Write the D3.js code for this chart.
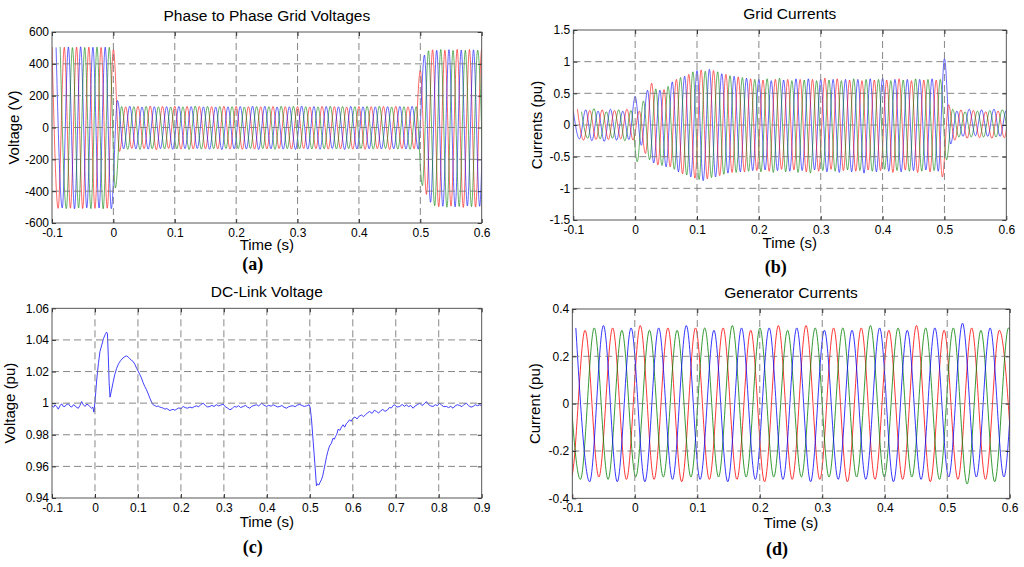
<!DOCTYPE html>
<html>
<head>
<meta charset="utf-8">
<script src="https://cdn.jsdelivr.net/npm/d3@7"></script>
<style>
  body { margin: 0; background: #fff; }
  svg { display: block; font-family: "Liberation Sans", Arial, Helvetica, sans-serif; }
  .tick text { font-size: 12px; fill: #000; }
  .tick line { stroke: #333; }
  .title { font-size: 15.5px; fill: #000; }
  .axis-label { font-size: 15px; fill: #000; }
  .panel-tag { font-family: "Liberation Serif", "Times New Roman", serif; font-weight: bold; font-size: 18px; }
</style>
</head>
<body>
<svg id="chart" width="1024" height="567"></svg>
<script>

// ---------- (a) phase to phase grid voltages, V ----------
// peaks in time order, one every period/3 (phases take turns)
const voltStart = -0.1,
    voltPeriod = 0.02;
const voltTops = [
    505,503,507,504,506,502,505,507,503,505,504,506,503,505,504,
    490,170,
    132,130,134,131,133,129,132,135,131,130,
    133,131,129,134,132,130,133,131,135,132,
    130,133,131,129,132,134,130,131,133,132,
    129,131,134,132,130,133,131,132,129,134,
    131,130,133,132,135,131,129,132,130,133,
    132,134,131,130,132,129,133,131,132,130,
    133,131,130,134,132,131,129,133,132,131,
    130,133,131,
    360,455,
    482,488,485,490,486,489,484,491,487,485,490,488,486,489,487
];
const voltBottoms = [
    -508,-505,-510,-507,-511,-506,-509,-505,-510,-508,-506,-511,-507,-510,
    -380,-150,
    -134,-137,-132,-135,-138,-133,-136,-134,-140,-133,
    -135,-132,-137,-134,-136,-133,-138,-135,-132,-136,
    -134,-137,-133,-135,-139,-132,-136,-134,-133,-137,
    -135,-132,-136,-138,-133,-135,-134,-137,-132,-136,
    -133,-135,-138,-134,-132,-136,-135,-133,-137,-134,
    -136,-132,-135,-134,-138,-133,-136,-135,-132,-137,
    -134,-136,-133,-135,-132,-138,-134,-136,-133,-135,
    -137,-134,-136,
    -365,-420,-470,
    -492,-498,-495,-501,-494,-499,-496,-502,-493,-497,-500,-495,-498,-496,-499
];
const voltXTicks = [-0.1, 0, 0.1, 0.2, 0.3, 0.4, 0.5, 0.6];
const voltYTicks = [-600, -400, -200, 0, 200, 400, 600];

// ---------- (b) grid currents, pu ----------
const currStart = -0.1,
    currPeriod = 0.02;
const currTops = [
    0.22,0.25,0.21,0.24,0.23,0.26,0.22,0.24,0.21,0.25,0.23,0.24,0.22,0.25,0.23,
    0.45,0.22,0.38,0.55,0.66,0.57,0.55,0.56,0.61,0.68,
    0.72,0.75,0.77,0.80,0.84,0.86,0.87,0.85,0.88,0.86,
    0.84,0.81,0.80,0.78,0.77,0.76,0.75,0.74,0.73,0.72,
    0.72,0.71,0.73,0.70,0.72,0.74,0.71,0.72,0.70,0.73,
    0.72,0.71,0.73,0.72,0.70,0.72,0.74,0.71,0.72,0.73,
    0.70,0.72,0.71,0.73,0.72,0.70,0.72,0.73,0.71,0.72,
    0.74,0.71,0.70,0.72,0.73,0.71,0.72,0.70,0.73,0.72,
    0.71,0.72,0.73,0.71,
    0.72,1.05,0.32,0.25,
    0.22,0.24,0.21,0.25,0.23,0.22,0.24,0.21,0.23,0.25,0.22,0.24,0.23,0.22
];
const currBottoms = [
    -0.22,-0.24,-0.21,-0.25,-0.23,-0.22,-0.26,-0.23,-0.21,-0.24,-0.22,-0.25,-0.23,-0.24,
    -0.58,-0.32,-0.45,-0.55,-0.60,-0.63,-0.64,-0.66,-0.66,-0.70,
    -0.74,-0.77,-0.79,-0.82,-0.84,-0.86,-0.88,-0.85,-0.83,-0.82,
    -0.80,-0.78,-0.76,-0.75,-0.75,-0.74,-0.74,-0.73,-0.72,
    -0.72,-0.74,-0.71,-0.73,-0.75,-0.72,-0.70,-0.74,-0.73,-0.71,
    -0.75,-0.72,-0.74,-0.76,-0.71,-0.73,-0.72,-0.74,-0.70,-0.73,
    -0.75,-0.72,-0.71,-0.74,-0.73,-0.72,-0.76,-0.71,-0.73,-0.74,
    -0.72,-0.70,-0.73,-0.75,-0.72,-0.74,-0.71,-0.73,-0.72,-0.75,
    -0.73,-0.71,-0.74,-0.72,-0.73,
    -0.82,-0.55,-0.30,-0.24,
    -0.19,-0.18,-0.21,-0.19,-0.17,-0.20,-0.19,-0.18,-0.21,-0.19,-0.18,-0.20,-0.19,-0.18,-0.20
];
const currXTicks = [-0.1, 0, 0.1, 0.2, 0.3, 0.4, 0.5, 0.6];
const currYTicks = [-1.5, -1, -0.5, 0, 0.5, 1, 1.5];

// ---------- (c) DC-link voltage, pu : [time, value] ----------
const dcLinkSamples = [
    [-0.1,0.9983],[-0.096,0.9975],[-0.093,0.9989],[-0.089,0.9978],[-0.0853,0.9962],[-0.081,0.9985],
    [-0.0775,0.9996],[-0.074,0.9980],[-0.0698,0.9979],[-0.066,0.9992],[-0.062,0.9996],[-0.058,0.9981],
    [-0.0542,0.9975],[-0.05,0.9990],[-0.0465,0.9983],[-0.042,0.9972],[-0.0388,0.9968],[-0.035,0.9985],
    [-0.031,1.0010],[-0.027,0.9990],[-0.0233,0.9979],[-0.019,0.9994],[-0.0155,0.9989],[-0.012,0.9978],
    [-0.0078,0.9968],[-0.005,0.9975],[-0.0023,0.9943],
    [0.001,1.004],[0.004,1.0147],[0.008,1.025],[0.0116,1.0327],[0.016,1.037],[0.02,1.041],
    [0.024,1.0435],[0.027,1.0449],[0.029,1.044],[0.031,1.03],[0.033,1.013],[0.035,1.0038],
    [0.038,1.0075],[0.042,1.013],[0.046,1.018],[0.0505,1.0221],[0.055,1.025],[0.06,1.027],
    [0.065,1.0285],[0.07,1.0295],[0.0737,1.0299],[0.077,1.0292],[0.08,1.0285],[0.085,1.027],
    [0.089,1.0263],[0.093,1.0245],[0.097,1.022],[0.1,1.0205],[0.1047,1.0179],[0.108,1.016],
    [0.112,1.013],[0.116,1.0105],[0.12,1.0084],[0.124,1.0058],[0.128,1.003],[0.132,1.0005],
    [0.1356,0.9989],[0.139,0.9985],[0.143,0.9979],[0.147,0.9982],[0.151,0.9975],[0.155,0.9972],
    [0.159,0.9968],[0.163,0.9962],[0.167,0.9966],[0.1744,0.9953],[0.178,0.9958],[0.182,0.9961],
    [0.186,0.9955],[0.19,0.9962],[0.195,0.9970],[0.2,0.9965],[0.2053,0.9979],[0.21,0.9972],
    [0.215,0.9968],[0.221,0.9975],[0.226,0.9970],[0.231,0.9978],[0.2365,0.9983],[0.241,0.9976],
    [0.246,0.9990],[0.252,1.0],[0.257,0.9985],[0.262,0.9976],[0.2674,0.9979],[0.272,0.9986],
    [0.277,0.9979],[0.283,0.9990],[0.288,0.9982],[0.293,0.9988],[0.2984,0.9994],[0.303,0.9978],
    [0.308,0.9970],[0.314,0.9958],[0.319,0.9965],[0.324,0.9979],[0.3295,0.9975],[0.334,0.9984],
    [0.339,0.9972],[0.345,0.9979],[0.35,0.9986],[0.355,0.9975],[0.3605,0.9968],[0.365,0.9980],
    [0.37,0.9985],[0.376,0.9990],[0.381,0.9982],[0.3877,1.0],[0.393,0.9988],[0.3993,0.9979],
    [0.404,0.9986],[0.41,0.9981],[0.4147,0.9990],[0.42,0.9983],[0.425,0.9976],[0.4302,0.9979],
    [0.435,0.9985],[0.44,0.9974],[0.4458,0.9968],[0.45,0.9976],[0.456,0.9982],[0.4612,0.9983],
    [0.466,0.9978],[0.471,0.9988],[0.4767,0.9992],[0.482,0.9985],[0.487,0.9979],[0.4923,0.9983],
    [0.4984,0.9990],
    [0.501,0.997],[0.504,0.9894],[0.508,0.975],[0.5116,0.962],[0.5155,0.9477],[0.518,0.949],
    [0.521,0.9482],[0.524,0.950],[0.527,0.9515],[0.53,0.954],[0.533,0.958],[0.536,0.962],
    [0.539,0.9662],[0.542,0.9695],[0.546,0.973],[0.55,0.9745],[0.554,0.9778],[0.557,0.9772],
    [0.56,0.979],[0.563,0.9805],[0.566,0.9835],[0.57,0.9828],[0.574,0.9850],[0.5775,0.9863],
    [0.581,0.9848],[0.585,0.9870],[0.589,0.9882],[0.5925,0.9895],[0.596,0.9885],[0.6007,0.9905],
    [0.605,0.9912],[0.61,0.9900],[0.615,0.9918],[0.62,0.9925],[0.625,0.9915],[0.63,0.9928],
    [0.635,0.9940],[0.6395,0.9947],[0.645,0.9935],[0.65,0.9955],[0.655,0.9948],[0.66,0.9937],
    [0.665,0.9952],[0.67,0.9960],[0.675,0.9948],[0.68,0.9955],[0.685,0.9972],[0.69,0.9970],
    [0.694,0.9985],[0.6977,0.9989],[0.703,0.9975],[0.7093,0.9979],[0.715,0.9992],[0.72,0.9980],
    [0.7248,0.9989],[0.73,0.9978],[0.735,0.9985],[0.7403,0.9968],[0.745,0.9982],[0.75,0.9990],
    [0.7558,1.0],[0.761,0.9985],[0.766,0.9995],[0.7713,1.001],[0.776,0.9992],[0.781,0.9983],
    [0.7868,0.9979],[0.792,0.9990],[0.797,0.9984],[0.8023,1.0],[0.807,0.9986],[0.812,0.9978],
    [0.8178,0.9979],[0.823,0.9972],[0.828,0.9980],[0.8333,0.9968],[0.838,0.9982],[0.843,0.9990],
    [0.849,0.9985],[0.854,0.9978],[0.859,0.9992],[0.8644,1.0],[0.869,0.9985],[0.875,0.9975],
    [0.88,0.9979],[0.885,0.9990],[0.89,0.9984],[0.8953,0.9989],[0.9,0.9985]
];
const dcXTicks = [-0.1, 0, 0.1, 0.2, 0.3, 0.4, 0.5, 0.6, 0.7, 0.8, 0.9];
const dcYTicks = [0.94, 0.96, 0.98, 1, 1.02, 1.04, 1.06];

// ---------- (d) generator currents, pu ----------
const genStart = -0.1238,
    genPeriod = 0.0442;
const genTops = [
    0.32,0.31,0.32,0.31,0.32,0.33,0.32,0.31,0.32,0.33,
    0.31,0.32,0.32,0.31,0.33,0.32,0.32,0.31,0.32,0.33,
    0.32,0.31,0.32,0.32,0.33,0.31,0.32,0.33,0.32,0.31,
    0.32,0.32,0.31,0.32,0.33,0.32,0.31,0.32,0.31,0.33,
    0.32,0.32,0.31,0.32,0.34,0.32,0.31,0.32,0.31,0.32,0.32
];
const genBottoms = [
    -0.31,-0.32,-0.33,-0.31,-0.32,-0.33,-0.32,-0.31,-0.33,-0.32,
    -0.31,-0.32,-0.33,-0.31,-0.32,-0.32,-0.31,-0.33,-0.32,-0.31,
    -0.32,-0.33,-0.31,-0.32,-0.32,-0.31,-0.33,-0.32,-0.31,-0.32,
    -0.33,-0.31,-0.32,-0.32,-0.31,-0.33,-0.32,-0.31,-0.32,-0.33,
    -0.32,-0.31,-0.32,-0.34,-0.31,-0.32,-0.33,-0.31,-0.32,-0.32,-0.31
];
const genXTicks = [-0.1, 0, 0.1, 0.2, 0.3, 0.4, 0.5, 0.6];
const genYTicks = [-0.4, -0.2, 0, 0.2, 0.4];

const red = "#ff0000", green = "#008000", blue = "#0000ff";

const svg = d3.select("#chart");

// split the time ordered peaks into the three phase traces
function phaseTraces(start, period, tops, bottoms) {
    const step = period / 3;
    const traces = [[], [], []];
    tops.forEach(function (v, j) { traces[j % 3].push({t: start + j * step, v: v}); });
    bottoms.forEach(function (v, j) { traces[j % 3].push({t: start + j * step + period / 2, v: v}); });
    traces.forEach(function (tr) { tr.sort(function (a, b) { return a.t - b.t; }); });
    return traces;
}

function drawPanel(p) {
    const x = d3.scaleLinear().domain(p.xDomain).range([p.left, p.right]);
    const y = d3.scaleLinear().domain(p.yDomain).range([p.bottom, p.top]);
    const g = svg.append("g").attr("class", "panel-" + p.id);

    g.append("clipPath").attr("id", "clip-" + p.id)
        .append("rect")
        .attr("x", p.left).attr("y", p.top)
        .attr("width", p.right - p.left).attr("height", p.bottom - p.top);

    const plot = g.append("g").attr("clip-path", "url(#clip-" + p.id + ")");

    //dashed grid on top of the traces
    const grid = g.append("g")
        .attr("stroke", "#7a7a7a")
        .attr("stroke-width", 0.9)
        .attr("stroke-dasharray", "7,4");

    grid.selectAll(".vgrid")
        .data(p.xTicks.slice(1, -1))
        .enter().append("line")
        .attr("x1", function (d) { return x(d); })
        .attr("x2", function (d) { return x(d); })
        .attr("y1", p.top).attr("y2", p.bottom);

    grid.selectAll(".hgrid")
        .data(p.yTicks.slice(1, -1))
        .enter().append("line")
        .attr("y1", function (d) { return y(d); })
        .attr("y2", function (d) { return y(d); })
        .attr("x1", p.left).attr("x2", p.right);

    g.append("g")
        .attr("transform", "translate(0," + p.bottom + ")")
        .call(d3.axisBottom(x).tickValues(p.xTicks).tickSize(-4).tickSizeOuter(0).tickPadding(5)
            .tickFormat(function (d) { return String(d); }))
        .call(function (a) { a.select(".domain").remove(); });

    g.append("g")
        .attr("transform", "translate(" + p.left + ",0)")
        .call(d3.axisLeft(y).tickValues(p.yTicks).tickSize(-4).tickSizeOuter(0).tickPadding(3)
            .tickFormat(function (d) { return String(d); }))
        .call(function (a) { a.select(".domain").remove(); });

    g.append("g")
        .attr("transform", "translate(0," + p.top + ")")
        .call(d3.axisTop(x).tickValues(p.xTicks).tickSize(-4).tickSizeOuter(0).tickFormat(""))
        .call(function (a) { a.select(".domain").remove(); });

    g.append("g")
        .attr("transform", "translate(" + p.right + ",0)")
        .call(d3.axisRight(y).tickValues(p.yTicks).tickSize(-4).tickSizeOuter(0).tickFormat(""))
        .call(function (a) { a.select(".domain").remove(); });

    g.append("rect")
        .attr("x", p.left).attr("y", p.top)
        .attr("width", p.right - p.left).attr("height", p.bottom - p.top)
        .attr("fill", "none")
        .attr("stroke", "#444")
        .attr("stroke-width", 0.9);

    g.append("text")
        .attr("class", "title")
        .attr("x", (p.left + p.right) / 2)
        .attr("y", p.titleY)
        .attr("text-anchor", "middle")
        .text(p.title);

    g.append("text")
        .attr("class", "axis-label")
        .attr("x", (p.left + p.right) / 2)
        .attr("y", p.xLabelY)
        .attr("text-anchor", "middle")
        .text("Time (s)");

    g.append("text")
        .attr("class", "axis-label")
        .attr("transform", "translate(" + p.yLabelX + "," + (p.top + p.bottom) / 2 + ") rotate(-90)")
        .attr("text-anchor", "middle")
        .text(p.yLabel);

    g.append("text")
        .attr("class", "panel-tag")
        .attr("x", (p.left + p.right) / 2 - 14)
        .attr("y", p.tagY)
        .attr("text-anchor", "middle")
        .text("(" + p.id + ")");

    return {x: x, y: y, plot: plot};
}

function drawTraces(panel, traces, colors, width) {
    const line = d3.line()
        .x(function (d) { return panel.x(d.t); })
        .y(function (d) { return panel.y(d.v); })
        .curve(d3.curveMonotoneX);

    panel.plot.selectAll(".trace")
        .data(traces)
        .enter().append("path")
        .attr("class", "trace")
        .attr("fill", "none")
        .attr("stroke", function (d, i) { return colors[i]; })
        .attr("stroke-width", width)
        .attr("d", line);
}

const panelA = drawPanel({
    id: "a", left: 52, top: 32, right: 481.7, bottom: 223,
    xDomain: [-0.1, 0.6], yDomain: [-600, 600], xTicks: voltXTicks, yTicks: voltYTicks,
    title: "Phase to Phase Grid Voltages", titleY: 20.7, xLabelY: 250,
    yLabel: "Voltage (V)", yLabelX: 18.5, tagY: 270
});
drawTraces(panelA, phaseTraces(voltStart, voltPeriod, voltTops, voltBottoms), [red, blue, green], 0.6);

const panelB = drawPanel({
    id: "b", left: 573.3, top: 30, right: 1006.3, bottom: 220,
    xDomain: [-0.1, 0.6], yDomain: [-1.5, 1.5], xTicks: currXTicks, yTicks: currYTicks,
    title: "Grid Currents", titleY: 19, xLabelY: 248.3,
    yLabel: "Currents (pu)", yLabelX: 542, tagY: 273
});
drawTraces(panelB, phaseTraces(currStart, currPeriod, currTops, currBottoms), [blue, red, green], 0.6);

const panelC = drawPanel({
    id: "c", left: 52, top: 308.3, right: 481.7, bottom: 498,
    xDomain: [-0.1, 0.9], yDomain: [0.94, 1.06], xTicks: dcXTicks, yTicks: dcYTicks,
    title: "DC-Link Voltage", titleY: 297.3, xLabelY: 527,
    yLabel: "Voltage (pu)", yLabelX: 15, tagY: 553
});
panelC.plot.append("path")
    .datum(dcLinkSamples)
    .attr("fill", "none")
    .attr("stroke", "#2a2aff")
    .attr("stroke-width", 0.9)
    .attr("d", d3.line()
        .x(function (d) { return panelC.x(d[0]); })
        .y(function (d) { return panelC.y(d[1]); }));

const panelD = drawPanel({
    id: "d", left: 572.3, top: 309, right: 1009.7, bottom: 498.3,
    xDomain: [-0.1, 0.6], yDomain: [-0.4, 0.4], xTicks: genXTicks, yTicks: genYTicks,
    title: "Generator Currents", titleY: 298, xLabelY: 527.5,
    yLabel: "Current (pu)", yLabelX: 540, tagY: 555
});
drawTraces(panelD, phaseTraces(genStart, genPeriod, genTops, genBottoms), [red, green, blue], 0.8);

</script>
</body>
</html>
